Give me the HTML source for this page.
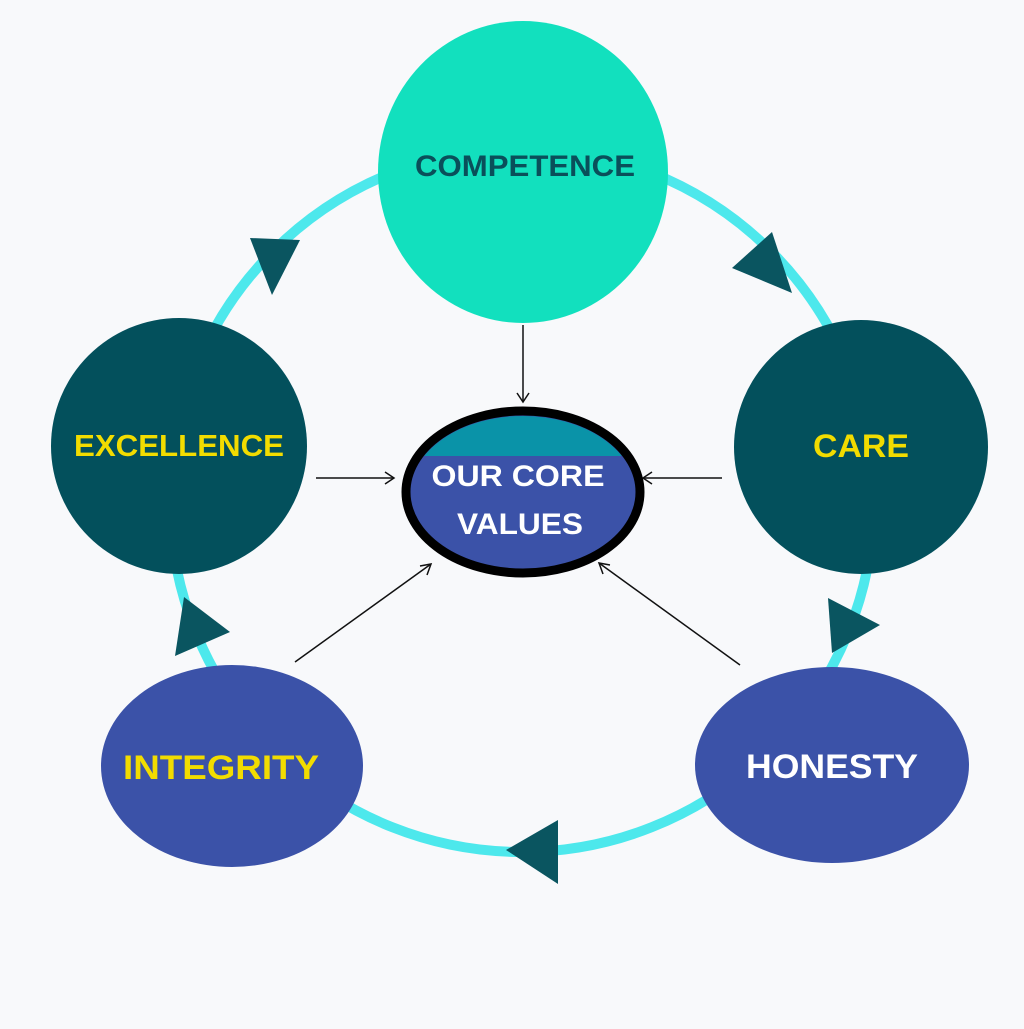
<!DOCTYPE html>
<html><head><style>body{margin:0;background:#f8f9fb}</style></head><body>
<svg width="1024" height="1024" viewBox="0 0 1024 1024" xmlns="http://www.w3.org/2000/svg">
<rect width="1024" height="1024" fill="#f8f9fb"/>
<circle cx="522" cy="500" r="352" fill="none" stroke="#4de8ec" stroke-width="10"/>
<g fill="#0a5560">
<polygon points="250,238 300,240 272,295"/>
<polygon points="732,268 772,232 792,293"/>
<polygon points="828,598 880,625 832,653"/>
<polygon points="558,820 558,884 506,850"/>
<polygon points="175,656 184,597 230,632"/>
</g>
<g stroke="#111" stroke-width="1.5" fill="none">
<line x1="523" y1="325" x2="523" y2="402"/><polyline points="517,393 523,402 529,393"/>
<line x1="316" y1="478" x2="394" y2="478"/><polyline points="385,472 394,478 385,484"/>
<line x1="722" y1="478" x2="643" y2="478"/><polyline points="652,472 643,478 652,484"/>
<line x1="295" y1="662" x2="431" y2="564"/><polyline points="420,566 431,564 427,575"/>
<line x1="740" y1="665" x2="599" y2="563"/><polyline points="603,574 599,563 610,565"/>
</g>
<ellipse cx="523" cy="172" rx="145" ry="151" fill="#12e0be"/>
<circle cx="861" cy="447" r="127" fill="#03505c"/>
<circle cx="179" cy="446" r="128" fill="#03505c"/>
<ellipse cx="232" cy="766" rx="131" ry="101" fill="#3b52a8"/>
<ellipse cx="832" cy="765" rx="137" ry="98" fill="#3b52a8"/>
<defs><clipPath id="c"><ellipse cx="523" cy="492" rx="112" ry="76"/></clipPath></defs>
<ellipse cx="523" cy="492" rx="117" ry="81" fill="#3b52a8" stroke="#000" stroke-width="9"/>
<rect x="400" y="400" width="250" height="56" fill="#0a93a8" clip-path="url(#c)"/>
<g font-family="Liberation Sans, sans-serif" font-weight="bold" text-anchor="middle">
<text x="525" y="176" font-size="30" fill="#0a4f5a" textLength="220" lengthAdjust="spacingAndGlyphs">COMPETENCE</text>
<text x="861" y="457" font-size="32" fill="#f2dc00" textLength="96" lengthAdjust="spacingAndGlyphs">CARE</text>
<text x="179" y="456" font-size="31" fill="#f2dc00" textLength="210" lengthAdjust="spacingAndGlyphs">EXCELLENCE</text>
<text x="221" y="779" font-size="34" fill="#f2dc00" textLength="196" lengthAdjust="spacingAndGlyphs">INTEGRITY</text>
<text x="832" y="778" font-size="34" fill="#ffffff" textLength="172" lengthAdjust="spacingAndGlyphs">HONESTY</text>
<text x="518" y="486" font-size="30" fill="#ffffff" textLength="173" lengthAdjust="spacingAndGlyphs">OUR CORE</text>
<text x="520" y="534" font-size="30" fill="#ffffff" textLength="126" lengthAdjust="spacingAndGlyphs">VALUES</text>
</g>
</svg>
</body></html>
